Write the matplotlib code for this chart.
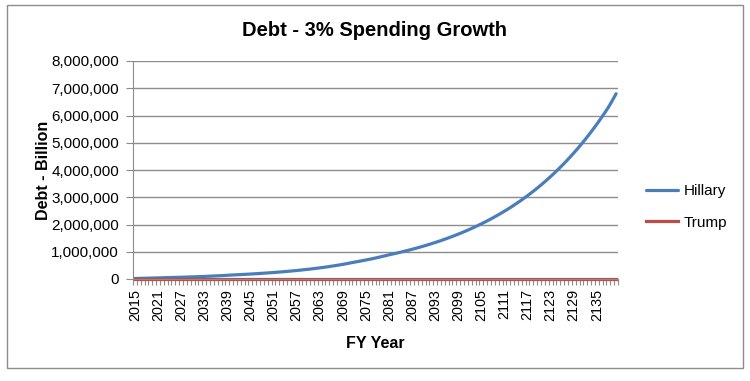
import numpy as np
import matplotlib.pyplot as plt
from matplotlib.patches import Rectangle
from matplotlib.ticker import FuncFormatter

plt.rcParams['font.family'] = ['Liberation Sans', 'DejaVu Sans']

# categories (fiscal years)
years = list(range(2015, 2141))

# debt in billions
hillary = [
    19, 22, 25, 29, 33, 37, 41, 45, 49, 53,
    57, 61, 65, 69, 73, 78, 83, 88, 94, 100,
    107, 114, 121, 128, 136, 145, 152, 159, 166, 174,
    182, 190, 199, 208, 218, 228, 238, 249, 260, 272,
    285, 298, 312, 326, 341, 357, 373, 390, 408, 427,
    447, 468, 490, 513, 537, 563, 590, 618, 643, 669,
    697, 725, 755, 786, 818, 852, 887, 918, 950, 983,
    1017, 1053, 1090, 1128, 1167, 1208, 1250, 1294, 1339, 1386,
    1435, 1485, 1537, 1591, 1647, 1704, 1764, 1826, 1890, 1956,
    2024, 2095, 2168, 2244, 2323, 2404, 2488, 2575, 2665, 2759,
    2855, 2955, 3059, 3166, 3277, 3391, 3510, 3633, 3760, 3892,
    4028, 4169, 4315, 4466, 4622, 4784, 4951, 5125, 5304, 5490,
    5682, 5881, 6087, 6300, 6540, 6800,
]
hillary = [v * 1000 for v in hillary]

trump = [
    0, 0, 0, 0, 0, 0, 0, 0, 0, 0, 0, 0, 0, 0, 0, 0, 0, 0,
    0, 0, 0, 0, 0, 0, 0, 0, 0, 0, 0, 0, 0, 0, 0, 0, 0, 0,
    0, 0, 0, 0, 0, 0, 0, 0, 0, 0, 0, 0, 0, 0, 0, 0, 0, 0,
    0, 0, 0, 0, 0, 0, 0, 0, 0, 0, 0, 0, 0, 0, 0, 0, 0, 0,
    0, 0, 0, 0, 0, 0, 0, 0, 0, 0, 0, 0, 0, 0, 0, 0, 0, 0,
    0, 0, 0, 0, 0, 0, 0, 0, 0, 0, 0, 0, 0, 0, 0, 0, 0, 0,
    0, 0, 0, 0, 0, 0, 0, 0, 0, 0, 0, 0, 0, 0, 0, 0, 0, 0,
]

label_years = years[::6]

W, H = 750, 381
fig = plt.figure(figsize=(W / 100, H / 100), dpi=100)
ax = fig.add_axes([133 / W, 1 - 279 / H, (618 - 133) / W, (279 - 61) / H])

x = np.arange(len(years))
ax.plot(x, hillary, color='#4A7EBB', lw=2.3, label='Hillary', solid_capstyle='round')
ax.plot(x, trump, color='#BE4B48', lw=2.3, label='Trump', clip_on=False)

ax.set_xlim(-0.5, len(years) - 0.5)
ax.set_ylim(0, 8000000)
ax.set_yticks(np.arange(0, 8000001, 1000000))
ax.yaxis.set_major_formatter(FuncFormatter(lambda v, p: f'{int(v):,}'))
ax.grid(axis='y', color='#8C8C8C', lw=1)
ax.set_axisbelow(True)

ax.set_xticks(x[::6])
ax.set_xticklabels([str(y) for y in label_years], rotation=90, fontsize=10.4)
ax.set_xticks(np.arange(len(years) + 1) - 0.5, minor=True)
ax.tick_params(axis='x', which='major', length=0, pad=7)
ax.tick_params(axis='x', which='minor', length=4, color='#8C8C8C', width=0.8)
ax.tick_params(axis='y', length=5, color='#8C8C8C', labelsize=11, pad=5)

for s in ['top', 'right']:
    ax.spines[s].set_visible(False)
for s in ['left', 'bottom']:
    ax.spines[s].set_color('#8C8C8C')

ax.set_ylabel('Debt - Billion', fontsize=11.5, fontweight='bold', labelpad=0)
ax.set_xlabel('FY Year', fontsize=11.5, fontweight='bold', labelpad=11)

fig.text(374 / W, 1 - 30 / H, 'Debt - 3% Spending Growth', ha='center', va='center',
         fontsize=14.5, fontweight='bold')

ax.legend(loc='center left', bbox_to_anchor=(632 / W, 1 - 207 / H), bbox_transform=fig.transFigure,
          frameon=False, fontsize=11, handlelength=2.1, handletextpad=0.4, labelspacing=1.15)

fig.patches.append(Rectangle((7 / W, 1 - 368 / H), (743 - 7) / W, (368 - 5) / H,
                             transform=fig.transFigure, fill=False, ec='#8C8C8C', lw=1))

fig.savefig('out.png', dpi=100)
